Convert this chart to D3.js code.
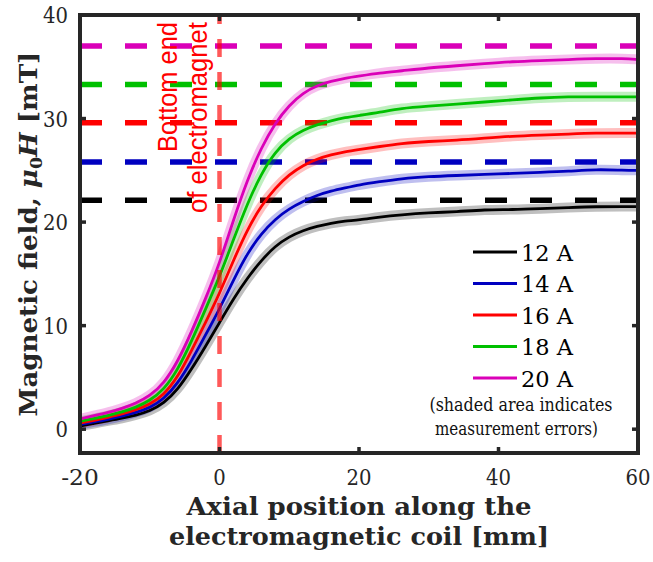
<!DOCTYPE html>
<html>
<head>
<meta charset="utf-8">
<script src="https://cdn.jsdelivr.net/npm/d3@7"></script>
<style>
  body { margin: 0; background: #ffffff; }
</style>
</head>
<body>
<svg id="chart" width="653" height="562"></svg>
<script>
// axial position along the coil [mm]
var positionMm = [-20,-18,-16,-14,-12,-10,-8,-6,-4,-2,0,2,4,6,8,10,12,14,16,18,20,23,26,30,34,38,42,46,50,54,58,60];

// measured field [mT] for each coil current
var field12A = [0.3,0.55,0.8,1.05,1.35,1.75,2.5,3.8,5.8,8.0,10.3,12.6,14.6,16.3,17.7,18.6,19.2,19.6,19.9,20.1,20.2,20.5,20.7,20.9,21.0,21.2,21.2,21.3,21.4,21.5,21.5,21.5];
var field14A = [0.45,0.7,0.95,1.25,1.6,2.05,2.9,4.4,6.6,9.1,11.6,14.4,17.0,18.9,20.3,21.3,22.0,22.6,23.0,23.3,23.6,23.9,24.2,24.4,24.5,24.6,24.7,24.8,24.9,25.1,25.0,25.0];
var field16A = [0.6,0.85,1.15,1.45,1.85,2.4,3.3,5.0,7.6,10.3,13.1,16.3,19.3,21.6,23.3,24.6,25.5,26.1,26.5,26.8,27.0,27.3,27.6,27.8,27.9,28.1,28.3,28.4,28.5,28.6,28.6,28.6];
var field18A = [0.75,1.0,1.3,1.65,2.1,2.75,3.8,5.7,8.5,11.6,14.7,18.3,21.8,24.7,26.8,28.1,28.9,29.4,29.8,30.1,30.3,30.6,31.0,31.2,31.4,31.6,31.8,32.0,32.1,32.1,32.1,32.1];
var field20A = [1.0,1.3,1.6,2.0,2.5,3.2,4.4,6.5,9.4,12.6,16.0,20.2,24.1,27.2,29.6,31.3,32.5,33.2,33.6,33.9,34.1,34.4,34.6,34.9,35.1,35.3,35.5,35.6,35.7,35.8,35.8,35.7];

var currentLabels = ["12 A", "14 A", "16 A", "18 A", "20 A"];
// expected saturation level for each current (dashed lines)
var saturationLevels = [22.1, 25.8, 29.6, 33.3, 37.0];

var xTicks = [-20, 0, 20, 40, 60];
var yTicks = [0, 10, 20, 30, 40];

var seriesColors = ["#000000", "#0000c0", "#ff0000", "#00c000", "#da00b8"];

var allFields = [field12A, field14A, field16A, field18A, field20A];

var svg = d3.select("#chart");
var margin = {left: 80, right: 15, top: 15, bottom: 109};
var width = 653, height = 562;

var serifFont = "'DejaVu Serif', serif";

var x = d3.scaleLinear().domain([-20, 60]).range([margin.left, width - margin.right]);
var y = d3.scaleLinear().domain([-2.3, 40]).range([height - margin.bottom, margin.top]);

svg.append("defs").append("clipPath").attr("id", "plotclip")
  .append("rect")
  .attr("x", x(-20)).attr("y", y(40))
  .attr("width", x(60) - x(-20)).attr("height", y(-2.3) - y(40));

var plot = svg.append("g").attr("clip-path", "url(#plotclip)");

// dashed saturation levels
plot.selectAll("line.sat").data(saturationLevels).enter().append("line")
  .attr("class", "sat")
  .attr("x1", x(-20)).attr("x2", x(60))
  .attr("y1", function(d) { return y(d); })
  .attr("y2", function(d) { return y(d); })
  .attr("stroke", function(d, i) { return seriesColors[i]; })
  .attr("stroke-width", 5.5)
  .attr("stroke-dasharray", "22,23");

var series = allFields.map(function(vals, i) {
  return vals.map(function(v, j) { return [positionMm[j], v]; });
});

// smooth the measured points a little (basis spline)
var lineGen = d3.line()
  .x(function(d) { return x(d[0]); })
  .y(function(d) { return y(d[1]); })
  .curve(d3.curveBasis);

// shaded error bands
plot.selectAll("path.band").data(series).enter().append("path")
  .attr("class", "band")
  .attr("d", lineGen)
  .attr("fill", "none")
  .attr("stroke", function(d, i) { return seriesColors[i]; })
  .attr("stroke-opacity", 0.25)
  .attr("stroke-width", 10)
  .attr("stroke-linejoin", "round");

plot.selectAll("path.curve").data(series).enter().append("path")
  .attr("class", "curve")
  .attr("d", lineGen)
  .attr("fill", "none")
  .attr("stroke", function(d, i) { return seriesColors[i]; })
  .attr("stroke-width", 2.8)
  .attr("stroke-linejoin", "round");

// bottom end of the electromagnet
plot.append("line")
  .attr("x1", x(0)).attr("x2", x(0))
  .attr("y1", y(-2.3)).attr("y2", y(40))
  .attr("stroke", "#ff0000")
  .attr("stroke-opacity", 0.65)
  .attr("stroke-width", 4.5)
  .attr("stroke-dasharray", "18,15");

var note = svg.append("g").attr("transform", "translate(177,22) rotate(-90)");
note.append("text").text("Bottom end")
  .attr("x", 0).attr("y", 0)
  .attr("text-anchor", "end")
  .style("font-family", "'Liberation Sans', Arial, sans-serif")
  .style("font-size", "27px").attr("fill", "#ff0000")
  .attr("textLength", 130).attr("lengthAdjust", "spacingAndGlyphs");
note.append("text").text("of electromagnet")
  .attr("x", 0).attr("y", 30)
  .attr("text-anchor", "end")
  .style("font-family", "'Liberation Sans', Arial, sans-serif")
  .style("font-size", "27px").attr("fill", "#ff0000")
  .attr("textLength", 191).attr("lengthAdjust", "spacingAndGlyphs");

// axes box with inward ticks on all sides
var axisColor = "#262626";
var tickLen = 6;
var frame = svg.append("g");
frame.append("rect")
  .attr("x", x(-20)).attr("y", y(40))
  .attr("width", x(60) - x(-20)).attr("height", y(-2.3) - y(40))
  .attr("fill", "none").attr("stroke", axisColor).attr("stroke-width", 4);

xTicks.forEach(function(t) {
  frame.append("line").attr("x1", x(t)).attr("x2", x(t))
    .attr("y1", y(-2.3)).attr("y2", y(-2.3) - tickLen)
    .attr("stroke", axisColor).attr("stroke-width", 3.5);
  frame.append("line").attr("x1", x(t)).attr("x2", x(t))
    .attr("y1", y(40)).attr("y2", y(40) + tickLen)
    .attr("stroke", axisColor).attr("stroke-width", 3.5);
  frame.append("text").text(t)
    .attr("x", x(t)).attr("y", 485)
    .attr("text-anchor", "middle")
    .style("font-family", serifFont)
    .style("font-size", "22px").attr("fill", axisColor)
    .attr("textLength", String(t).length * 12.5).attr("lengthAdjust", "spacingAndGlyphs");
});
yTicks.forEach(function(t) {
  frame.append("line").attr("x1", x(-20)).attr("x2", x(-20) + tickLen)
    .attr("y1", y(t)).attr("y2", y(t))
    .attr("stroke", axisColor).attr("stroke-width", 3.5);
  frame.append("line").attr("x1", x(60)).attr("x2", x(60) - tickLen)
    .attr("y1", y(t)).attr("y2", y(t))
    .attr("stroke", axisColor).attr("stroke-width", 3.5);
  frame.append("text").text(t)
    .attr("x", 68).attr("y", y(t) + 8)
    .attr("text-anchor", "end")
    .style("font-family", serifFont)
    .style("font-size", "22px").attr("fill", axisColor)
    .attr("textLength", String(t).length * 12.5).attr("lengthAdjust", "spacingAndGlyphs");
});

// axis titles
function fitWidth(sel, target) {
  sel.attr("textLength", target).attr("lengthAdjust", "spacingAndGlyphs");
}
fitWidth(svg.append("text").text("Axial position along the")
  .attr("x", x(20)).attr("y", 515).attr("text-anchor", "middle")
  .style("font-family", serifFont).style("font-weight", "bold").style("font-size", "24px")
  .attr("fill", axisColor), 345);
fitWidth(svg.append("text").text("electromagnetic coil [mm]")
  .attr("x", x(20)).attr("y", 545).attr("text-anchor", "middle")
  .style("font-family", serifFont).style("font-weight", "bold").style("font-size", "24px")
  .attr("fill", axisColor), 380);

var ylab = svg.append("text")
  .attr("text-anchor", "middle")
  .style("font-family", serifFont).style("font-weight", "bold").style("font-size", "24px")
  .attr("fill", axisColor);
ylab.append("tspan").text("Magnetic field, ");
ylab.append("tspan").text("μ").style("font-style", "italic");
ylab.append("tspan").text("0").style("font-size", "16px").attr("dy", 5);
ylab.append("tspan").text("H").style("font-style", "italic").attr("dy", -5);
ylab.append("tspan").text(" [mT]");
var yw = ylab.node().getComputedTextLength();
ylab.attr("transform", "translate(37,234) rotate(-90) scale(" + (365 / yw) + ",1)");

// legend (no box)
var legend = svg.append("g");
var legendRows = [252, 283.5, 315, 346.5, 378];
currentLabels.forEach(function(lbl, i) {
  legend.append("line")
    .attr("x1", 473).attr("x2", 517)
    .attr("y1", legendRows[i]).attr("y2", legendRows[i])
    .attr("stroke", seriesColors[i]).attr("stroke-width", 3);
  legend.append("text").text(lbl)
    .attr("x", 521).attr("y", legendRows[i] + 8.5)
    .style("font-family", serifFont)
    .style("font-size", "23px").attr("fill", "#000")
    .attr("textLength", 52).attr("lengthAdjust", "spacingAndGlyphs");
});
legend.append("text").text("(shaded area indicates")
  .attr("x", 521).attr("y", 411).attr("text-anchor", "middle")
  .style("font-family", serifFont)
  .style("font-size", "18px").attr("fill", "#111")
  .attr("textLength", 183).attr("lengthAdjust", "spacingAndGlyphs");
legend.append("text").text("measurement errors)")
  .attr("x", 516.5).attr("y", 435).attr("text-anchor", "middle")
  .style("font-family", serifFont)
  .style("font-size", "18px").attr("fill", "#111")
  .attr("textLength", 163).attr("lengthAdjust", "spacingAndGlyphs");
</script>
</body>
</html>
